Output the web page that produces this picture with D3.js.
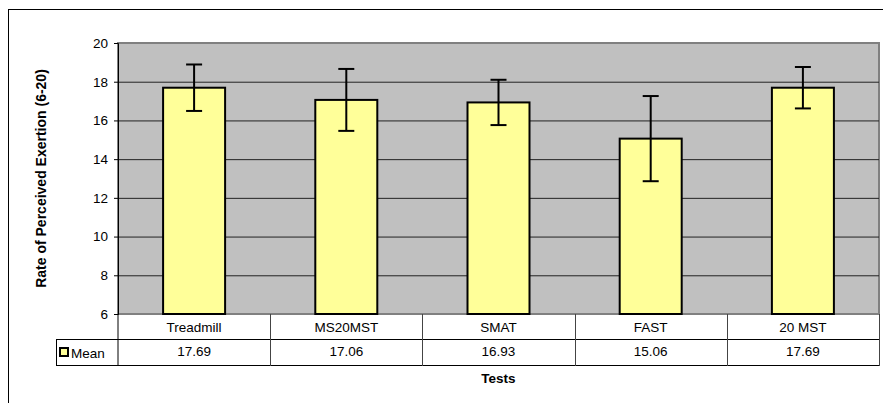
<!DOCTYPE html>
<html><head><meta charset="utf-8">
<script src="https://cdn.jsdelivr.net/npm/d3@7"></script>
<style>body{margin:0;background:#fff}svg{display:block;font-family:Arial,"Liberation Sans",sans-serif}</style>
</head><body>
<svg id="c" width="883" height="403"></svg>
<script>
const categories = ["Treadmill", "MS20MST", "SMAT", "FAST", "20 MST"];
const means = [17.69, 17.06, 16.93, 15.06, 17.69];
const sds = [1.2, 1.6, 1.17, 2.2, 1.07];
const meanLabels = ["17.69", "17.06", "16.93", "15.06", "17.69"];
const yTicks = [6, 8, 10, 12, 14, 16, 18, 20];
const seriesName = "Mean";

const FS = 13.5;
const svg = d3.select("#c");
const L = 118, R = 879, T = 43, B = 314;
const row1 = 339, row2 = 365, legL = 56;

// outer frame
svg.append("rect").attr("x", 8.5).attr("y", 9.5).attr("width", 900).attr("height", 420)
  .attr("fill", "none").attr("stroke", "#000").attr("stroke-width", 1);

const x = d3.scaleBand().domain(categories).range([L, R]).paddingInner(0).paddingOuter(0);
const y = d3.scaleLinear().domain([6, 20]).range([B, T]);

// plot background
svg.append("rect").attr("x", L).attr("y", T).attr("width", R - L).attr("height", B - T)
  .attr("fill", "#c0c0c0").attr("stroke", "#808080").attr("stroke-width", 2);

// gridlines
svg.append("g").selectAll("line").data(yTicks.filter(d => d > 6 && d < 20)).join("line")
  .attr("x1", L).attr("x2", R).attr("y1", d => y(d) + 0.5).attr("y2", d => y(d) + 0.5)
  .attr("stroke", "#222").attr("stroke-width", 1);

// y axis
const ya = svg.append("g").attr("transform", `translate(${L},0)`)
  .call(d3.axisLeft(y).tickValues(yTicks).tickSize(4).tickPadding(6).tickFormat(d3.format("d")));
ya.select(".domain").attr("stroke", "#000");
ya.selectAll("text").attr("font-size", FS).attr("fill", "#000").attr("font-family", "Arial, 'Liberation Sans', sans-serif");

// bars
const bw = 62;
svg.append("g").selectAll("rect").data(categories).join("rect")
  .attr("x", d => x(d) + x.bandwidth() / 2 - bw / 2)
  .attr("y", (d, i) => y(means[i]))
  .attr("width", bw)
  .attr("height", (d, i) => y(6) - y(means[i]))
  .attr("fill", "#ffff99").attr("stroke", "#000").attr("stroke-width", 2);

// error bars
const eg = svg.append("g").attr("stroke", "#000").attr("stroke-width", 2);
categories.forEach((c, i) => {
  const cx = x(c) + x.bandwidth() / 2;
  const hi = y(means[i] + sds[i]), lo = y(means[i] - sds[i]);
  eg.append("line").attr("x1", cx).attr("x2", cx).attr("y1", hi).attr("y2", lo);
  eg.append("line").attr("x1", cx - 8).attr("x2", cx + 8).attr("y1", hi).attr("y2", hi);
  eg.append("line").attr("x1", cx - 8).attr("x2", cx + 8).attr("y1", lo).attr("y2", lo);
});

// data table
const tg = svg.append("g");
tg.append("line").attr("x1", L).attr("x2", L).attr("y1", B).attr("y2", row2).attr("stroke", "#000");
tg.append("line").attr("x1", legL).attr("x2", R).attr("y1", row1 + 0.5).attr("y2", row1 + 0.5).attr("stroke", "#000");
tg.append("line").attr("x1", legL).attr("x2", R).attr("y1", row2 + 0.5).attr("y2", row2 + 0.5).attr("stroke", "#000");
tg.append("line").attr("x1", legL + 0.5).attr("x2", legL + 0.5).attr("y1", row1).attr("y2", row2).attr("stroke", "#000");
categories.forEach((c, i) => {
  const xr = Math.round(x(c) + x.bandwidth()) + 0.5;
  tg.append("line").attr("x1", xr).attr("x2", xr).attr("y1", B).attr("y2", row2 + 1).attr("stroke", "#444");
  tg.append("text").attr("x", x(c) + x.bandwidth() / 2).attr("y", (B + row1) / 2 + 5)
    .attr("text-anchor", "middle").attr("font-size", FS).text(c);
  tg.append("text").attr("x", x(c) + x.bandwidth() / 2).attr("y", (row1 + row2) / 2 + 4)
    .attr("text-anchor", "middle").attr("font-size", FS).text(meanLabels[i]);
});
tg.append("rect").attr("x", 60).attr("y", 348).attr("width", 8).attr("height", 8)
  .attr("fill", "#ffff99").attr("stroke", "#000").attr("stroke-width", 2);
tg.append("text").attr("x", 71).attr("y", 358).attr("font-size", FS).text(seriesName);

// axis titles
svg.append("text").attr("x", (L + R) / 2).attr("y", 383).attr("text-anchor", "middle")
  .attr("font-size", FS).attr("font-weight", "bold").text("Tests");
svg.append("text").attr("transform", `translate(46,${(T + B) / 2}) rotate(-90)`)
  .attr("text-anchor", "middle").attr("font-size", 14).attr("font-weight", "bold")
  .text("Rate of Perceived Exertion (6-20)");
</script>
</body></html>
